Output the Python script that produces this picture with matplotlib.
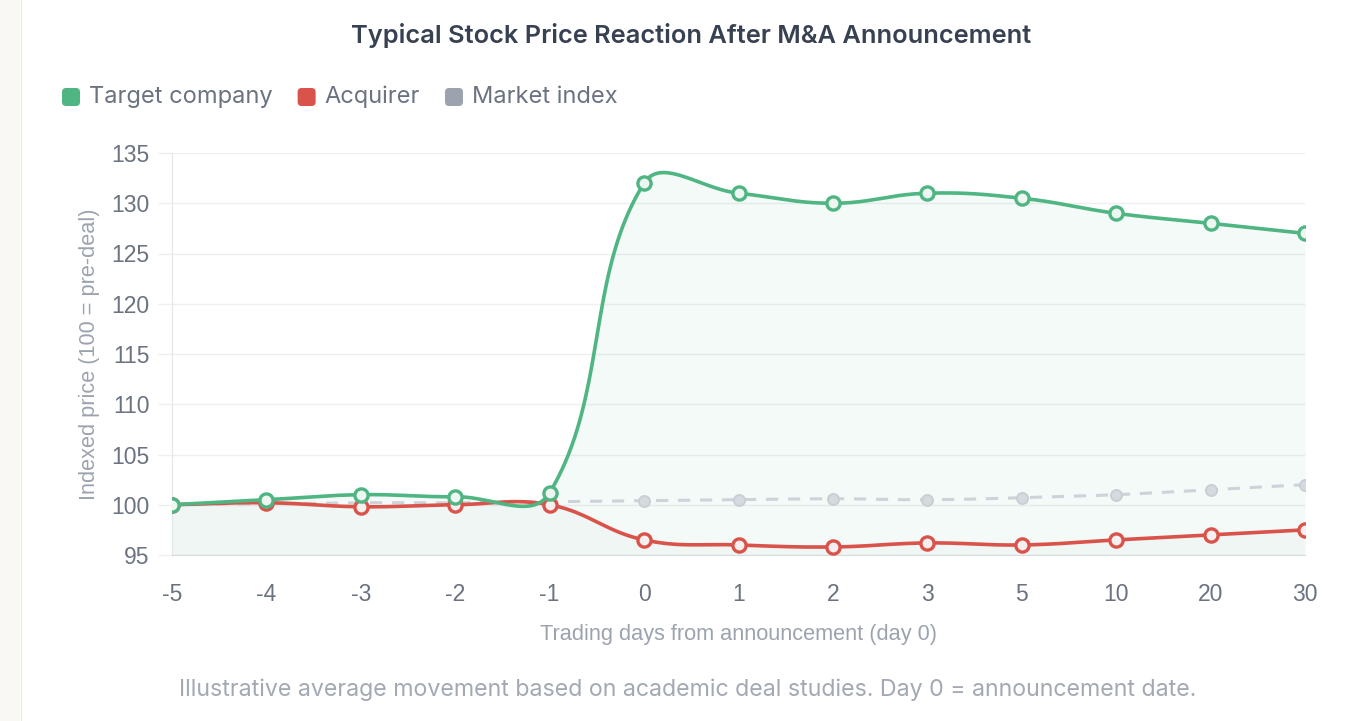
import numpy as np
import matplotlib
matplotlib.use("Agg")
import matplotlib.pyplot as plt
from matplotlib.patches import FancyBboxPatch, Rectangle

# donnees
jours = ["-5", "-4", "-3", "-2", "-1", "0", "1", "2", "3", "5", "10", "20", "30"]
cible = [100, 100.5, 101, 100.8, 101.2, 132, 131, 130, 131, 130.5, 129, 128, 127]
acquereur = [100, 100.2, 99.8, 100, 100, 96.5, 96, 95.8, 96.2, 96, 96.5, 97, 97.5]
marche = [100, 100.1, 100.2, 100.2, 100.3, 100.4, 100.5, 100.6, 100.5, 100.7, 101, 101.5, 102]

VERT = "#4fb582"
ROUGE = "#d9534b"
GRIS = "#9ca3af"
GRIS_LIGNE = "#cdd3d9"

W, H = 1353, 721


def fx(px):
    return px / W


def fy(py):
    return 1 - py / H


def courbe_lisse(ax, y, tension=0.4, n=40):
    # spline facon chart.js, calculee en pixels
    x = np.arange(len(y))
    pts = ax.transData.transform(np.column_stack([x, y]))
    bb = ax.bbox
    npt = len(pts)
    cp_av, cp_ap = [], []
    for i in range(npt):
        p0 = pts[i - 1] if i > 0 else pts[i]
        p1 = pts[i]
        p2 = pts[i + 1] if i < npt - 1 else pts[i]
        d01 = np.hypot(*(p1 - p0))
        d12 = np.hypot(*(p2 - p1))
        s = d01 + d12
        s01 = d01 / s if s > 0 else 0
        s12 = d12 / s if s > 0 else 0
        a = p1 - tension * s01 * (p2 - p0)
        b = p1 + tension * s12 * (p2 - p0)
        a = np.clip(a, [bb.x0, bb.y0], [bb.x1, bb.y1])
        b = np.clip(b, [bb.x0, bb.y0], [bb.x1, bb.y1])
        cp_av.append(a)
        cp_ap.append(b)
    t = np.linspace(0, 1, n)[:, None]
    segs = []
    for i in range(npt - 1):
        P0, P1, P2, P3 = pts[i], cp_ap[i], cp_av[i + 1], pts[i + 1]
        seg = ((1 - t)**3) * P0 + 3 * ((1 - t)**2) * t * P1 + 3 * (1 - t) * t**2 * P2 + t**3 * P3
        segs.append(seg if i == 0 else seg[1:])
    xy = ax.transData.inverted().transform(np.vstack(segs))
    return xy[:, 0], xy[:, 1]


fig = plt.figure(figsize=(W / 100, H / 100), dpi=100)
fig.patch.set_facecolor("white")

# bande a gauche
fig.add_artist(Rectangle((0, 0), fx(20), 1, transform=fig.transFigure,
                         facecolor="#f9f8f4", edgecolor="none", zorder=0))
fig.add_artist(plt.Line2D([fx(20.5), fx(20.5)], [0, 1], transform=fig.transFigure,
                          color="#ebebe8", lw=1))

ax = fig.add_axes([fx(172), fy(555), fx(1305 - 172), (555 - 153) / H])
x = np.arange(len(jours))
ax.set_xlim(0, len(jours) - 1)
ax.set_ylim(95, 135)

xm, ym = courbe_lisse(ax, marche)
xa, ya = courbe_lisse(ax, acquereur)
xc, yc = courbe_lisse(ax, cible)

ax.fill_between(xc, 95, yc, color=VERT, alpha=0.06, lw=0, zorder=1)
ax.fill_between(xa, 95, ya, color="#8a9a90", alpha=0.035, lw=0, zorder=1)

ax.plot(xm, ym, color=GRIS_LIGNE, lw=2.2, dashes=(4, 3.2), zorder=2)
ax.plot(x, marche, "o", ms=8, mfc="#d5dadf", mec="#c8ced4", mew=1.3, zorder=2)

ax.plot(xa, ya, color=ROUGE, lw=2.6, zorder=3)
ax.plot(x, acquereur, "o", ms=9.5, mfc="#f5f0ef", mec=ROUGE, mew=2.4, zorder=3)

ax.plot(xc, yc, color=VERT, lw=2.6, zorder=4)
ax.plot(x, cible, "o", ms=9.5, mfc="#eef6f1", mec=VERT, mew=2.4, zorder=4)

ax.set_xticks(x)
ax.set_xticklabels(jours)
ax.set_yticks(np.arange(95, 136, 5))
ax.grid(axis="y", color="#edeff1", lw=1)
ax.set_axisbelow(True)
ax.tick_params(axis="y", length=10, width=1, color="#edeff1", pad=6,
               labelsize=16.5, labelcolor="#6b7280")
ax.tick_params(axis="x", length=0, pad=20, labelsize=16.5, labelcolor="#6b7280")
for lab in ax.get_xticklabels() + ax.get_yticklabels():
    lab.set_family("Liberation Sans")
for s in ["top", "right"]:
    ax.spines[s].set_visible(False)
ax.spines["left"].set_color("#e3e5e8")
ax.spines["bottom"].set_color("#d9dcdf")

ax.set_xlabel("Trading days from announcement (day 0)", fontsize=15.7, color=GRIS,
              family="Liberation Sans", labelpad=13)
ax.set_ylabel("Indexed price (100 = pre-deal)", fontsize=15.7, color=GRIS,
              family="Liberation Sans", labelpad=8)

fig.text(0.511, fy(35), "Typical Stock Price Reaction After M&A Announcement",
         ha="center", va="center", fontsize=18.3, fontweight="semibold",
         color="#374151", family="Inter")

# legende
rend = fig.canvas.get_renderer()
xpos = 62
for nom, c in [("Target company", VERT), ("Acquirer", ROUGE), ("Market index", GRIS)]:
    fig.add_artist(FancyBboxPatch((fx(xpos), fy(106)), fx(18), 18 / H,
                                  boxstyle="round,pad=0,rounding_size=0.003",
                                  transform=fig.transFigure, facecolor=c,
                                  edgecolor="none", mutation_aspect=W / H))
    t = fig.text(fx(xpos + 27), fy(97), nom, ha="left", va="center",
                 fontsize=17, color="#6b7280", family="Inter")
    bb = t.get_window_extent(rend)
    xpos = bb.x1 + 25

fig.text(0.508, fy(690), "Illustrative average movement based on academic deal studies. "
         "Day 0 = announcement date.", ha="center", va="center", fontsize=16.7,
         color="#a3a9b3", family="Inter")

fig.savefig("out.png", dpi=100)
